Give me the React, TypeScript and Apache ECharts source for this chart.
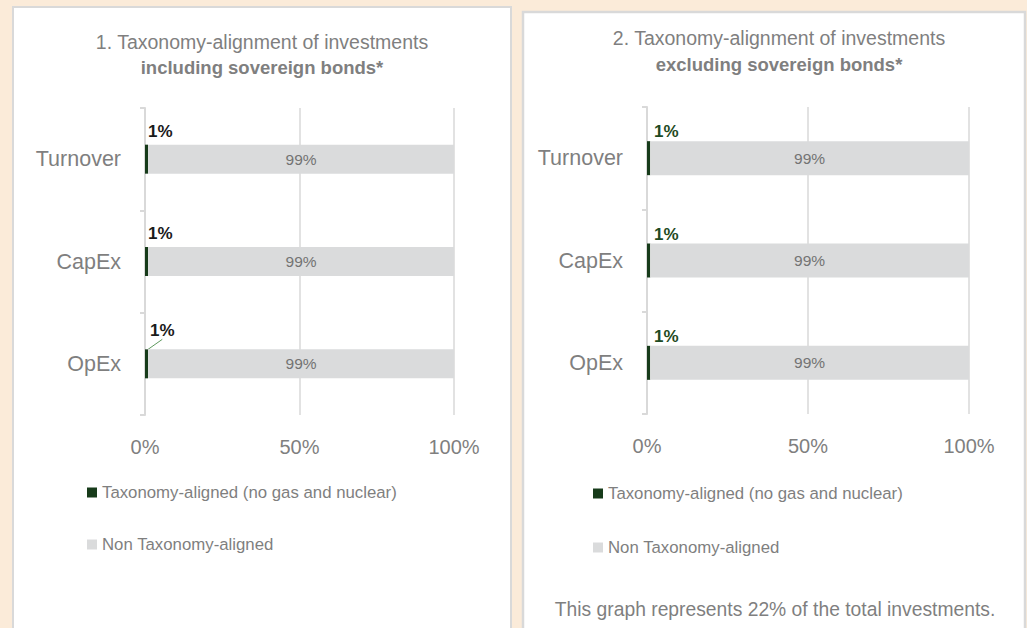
import React, { useEffect, useRef } from "react";
import * as echarts from "echarts";

const categories = ["Turnover", "CapEx", "OpEx"];
const alignedIncl = [1, 1, 1];
const nonAlignedIncl = [99, 99, 99];
const alignedExcl = [1, 1, 1];
const nonAlignedExcl = [99, 99, 99];
const xMin = 0;
const xMax = 100;
const xStep = 50;
const seriesNames = ["Taxonomy-aligned (no gas and nuclear)", "Non Taxonomy-aligned"];
const titles1 = ["1. Taxonomy-alignment of investments", "including sovereign bonds*"];
const titles2 = ["2. Taxonomy-alignment of investments", "excluding sovereign bonds*"];
const footer = "This graph represents 22% of the total investments.";

const FONT = "'Liberation Sans', Arial, sans-serif";
const GREY = "#7f7f7f";
const GREEN = "#173B1A";
const LIGHT = "#DADBDC";
const LINE = "#d9d9d9";

function xAxis(gridIndex: number) {
  return {
    type: "value",
    gridIndex,
    min: xMin,
    max: xMax,
    interval: xStep,
    axisLine: { show: false },
    axisTick: { show: false },
    axisLabel: { formatter: "{value}%", margin: 22, fontSize: 20, color: GREY, fontFamily: FONT },
    splitLine: { show: true, lineStyle: { color: LINE, width: 1.5 } },
  };
}

function yAxis(gridIndex: number) {
  return {
    type: "category",
    gridIndex,
    data: categories,
    inverse: true,
    axisLine: { show: true, lineStyle: { color: LINE, width: 2 } },
    axisTick: { show: true, length: 5, lineStyle: { color: LINE, width: 2 } },
    axisLabel: { margin: 24, fontSize: 21.5, color: GREY, fontFamily: FONT },
    splitLine: { show: false },
  };
}

export default function App() {
  const ref = useRef<HTMLDivElement>(null);
  useEffect(() => {
    if (!ref.current) return;
    const chart = echarts.init(ref.current, null, { renderer: "svg" });
    const alignedLabel = (color: string, pos: number[]) => ({
      show: true,
      formatter: "{c}%",
      position: pos,
      align: "left",
      verticalAlign: "bottom",
      fontSize: 17,
      fontWeight: "bold",
      color,
      fontFamily: FONT,
    });
    const nonLabel = {
      show: true,
      formatter: "{c}%",
      position: "inside",
      fontSize: 15.5,
      color: "#737373",
      fontFamily: FONT,
    };
    const inclAlignedData = alignedIncl.map((v, i) =>
      i === 2
        ? {
            value: v,
            label: { position: [5, -10] },
            labelLine: { show: true, lineStyle: { color: "#5f9a5f", width: 1 } },
          }
        : { value: v }
    );
    const titleText = (x: number, y: number, text: string, bold: boolean, size: number) => ({
      type: "text",
      x,
      y,
      style: {
        text,
        align: "center",
        verticalAlign: "middle",
        fontSize: size,
        fontWeight: bold ? "bold" : "normal",
        fontFamily: FONT,
        fill: GREY,
      },
    });
    chart.setOption({
      animation: false,
      backgroundColor: "#FBEBD9",
      graphic: [
        {
          type: "rect",
          z: -10,
          shape: { x: 13, y: 7, width: 498, height: 640 },
          style: { fill: "#ffffff", stroke: LINE, lineWidth: 2 },
        },
        {
          type: "rect",
          z: -10,
          shape: { x: 523, y: 12, width: 502, height: 640 },
          style: { fill: "#ffffff", stroke: LINE, lineWidth: 2.5 },
        },
        titleText(262, 42, titles1[0], false, 19.5),
        titleText(262, 67, titles1[1], true, 18.5),
        titleText(779, 38, titles2[0], false, 19.5),
        titleText(779, 64, titles2[1], true, 18.5),
        titleText(775, 609, footer, false, 19.3),
      ],
      legend: [
        {
          orient: "vertical",
          left: 82,
          top: 479,
          itemWidth: 10,
          itemHeight: 10,
          itemGap: 35,
          icon: "rect",
          data: seriesNames,
          textStyle: { fontSize: 16.8, color: GREY, fontFamily: FONT },
          selectedMode: false,
        },
        {
          orient: "vertical",
          left: 588,
          top: 480,
          itemWidth: 10,
          itemHeight: 10,
          itemGap: 37,
          icon: "rect",
          data: seriesNames,
          textStyle: { fontSize: 16.8, color: GREY, fontFamily: FONT },
          selectedMode: false,
        },
      ],
      grid: [
        { left: 145, top: 108, width: 309, height: 307 },
        { left: 647, top: 107, width: 322, height: 307 },
      ],
      xAxis: [xAxis(0), xAxis(1)],
      yAxis: [yAxis(0), yAxis(1)],
      series: [
        {
          name: seriesNames[0],
          type: "bar",
          xAxisIndex: 0,
          yAxisIndex: 0,
          stack: "a",
          barWidth: 29,
          itemStyle: { color: GREEN },
          label: alignedLabel("#1a1a1a", [3, -5]),
          data: inclAlignedData,
        },
        {
          name: seriesNames[1],
          type: "bar",
          xAxisIndex: 0,
          yAxisIndex: 0,
          stack: "a",
          barWidth: 29,
          itemStyle: { color: LIGHT },
          label: nonLabel,
          data: nonAlignedIncl,
        },
        {
          name: seriesNames[0],
          type: "bar",
          xAxisIndex: 1,
          yAxisIndex: 1,
          stack: "b",
          barWidth: 34,
          itemStyle: { color: GREEN },
          label: alignedLabel("#1E4A22", [7, -1]),
          data: alignedExcl,
        },
        {
          name: seriesNames[1],
          type: "bar",
          xAxisIndex: 1,
          yAxisIndex: 1,
          stack: "b",
          barWidth: 34,
          itemStyle: { color: LIGHT },
          label: nonLabel,
          data: nonAlignedExcl,
        },
      ],
    });
    return () => chart.dispose();
  }, []);
  return (
    <div
      ref={ref}
      style={{ position: "absolute", left: 0, top: 0, width: 1027, height: 628 }}
    />
  );
}
